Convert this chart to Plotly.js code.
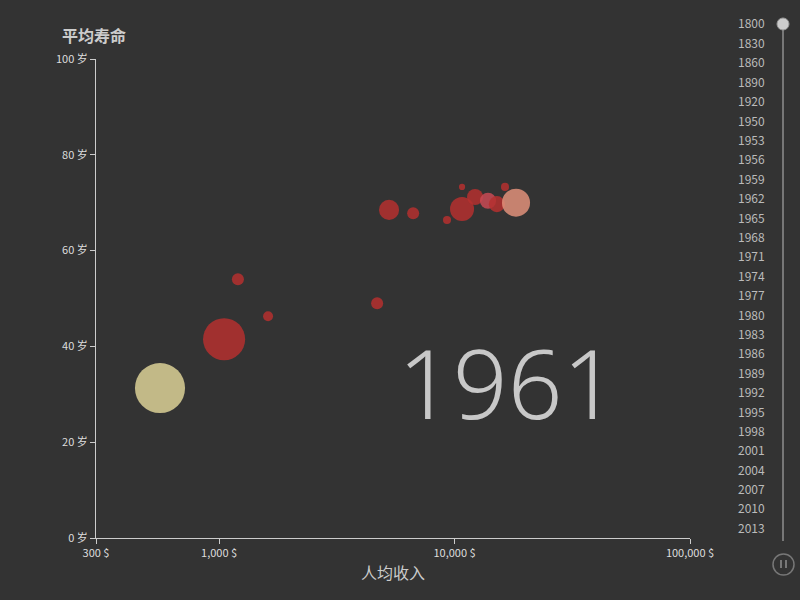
<!DOCTYPE html>
<html><head><meta charset="utf-8">
<script src="https://cdn.plot.ly/plotly-3.0.1.min.js"></script>
<style>body{margin:0;background:#333}#chart{width:800px;height:600px}</style>
</head><body><div id="chart"></div>
<script>
var income = [561, 1050, 1202, 1614, 4690, 5270, 6670, 9290, 10760, 10760, 12220, 13870, 15130, 16380, 18240];
var lifeExp = [31.3, 41.5, 54, 46.3, 49, 68.5, 67.8, 66.4, 68.7, 73.3, 71.2, 70.4, 69.7, 73.3, 70];
var population = [660, 466, 38, 26, 38, 106, 38, 17, 152, 10, 68, 68, 68, 17, 207];
var colors = ['#dcd196', '#b5302f', '#b5302f', '#b5302f', '#b5302f', '#b5302f', '#b5302f', '#b5302f',
  '#b5302f', '#b5302f', '#b5302f', '#c84a55', '#b5302f', '#b5302f', '#e0907a'];
var xTicks = [300, 1000, 10000, 100000];
var xTickText = ['300 $', '1,000 $', '10,000 $', '100,000 $'];
var yTicks = [0, 20, 40, 60, 80, 100];
var years = ['1800','1830','1860','1890','1920','1950','1953','1956','1959','1962','1965','1968','1971',
  '1974','1977','1980','1983','1986','1989','1992','1995','1998','2001','2004','2007','2010','2013'];
var currentYear = '1961';

var sizes = population.map(function (p) { return Math.sqrt(p) * 1.95; });

var data = [{
  type: 'scatter', mode: 'markers',
  x: income, y: lifeExp,
  marker: { size: sizes, color: colors, opacity: 0.85, line: { width: 0 } },
  hoverinfo: 'skip'
}];

// pixel -> paper (plot area spans x 96..690, y 59..538)
function px(x) { return (x - 96) / 594; }
function py(y) { return (538 - y) / 479; }

var annotations = [
  { text: '<b>平均寿命</b>', x: px(60), y: py(35), xref: 'paper', yref: 'paper', xanchor: 'left', yanchor: 'middle',
    showarrow: false, font: { size: 16, color: '#ccc' } },
  { text: currentYear, x: px(508), y: py(382), xref: 'paper', yref: 'paper', xanchor: 'center', yanchor: 'middle',
    showarrow: false, font: { size: 96, color: '#c8c8c8', family: 'Noto Sans', weight: 300 } }
];
years.forEach(function (yr, i) {
  annotations.push({ text: yr, x: px(767), y: py(23 + i * 19.4), xref: 'paper', yref: 'paper',
    xanchor: 'right', yanchor: 'middle', showarrow: false, font: { size: 12, color: '#bbb' } });
});

var shapes = [
  { type: 'line', xref: 'paper', yref: 'paper', x0: px(783), x1: px(783), y0: py(25), y1: py(541),
    line: { color: '#777', width: 2 } },
  { type: 'circle', xref: 'paper', yref: 'paper', x0: px(777), x1: px(789), y0: py(18), y1: py(30),
    fillcolor: '#ccc', line: { color: '#999', width: 1 } },
  { type: 'circle', xref: 'paper', yref: 'paper', x0: px(773), x1: px(794), y0: py(554), y1: py(575),
    line: { color: '#777', width: 1.5 } },
  { type: 'line', xref: 'paper', yref: 'paper', x0: px(781), x1: px(781), y0: py(560), y1: py(568),
    line: { color: '#777', width: 2 } },
  { type: 'line', xref: 'paper', yref: 'paper', x0: px(786), x1: px(786), y0: py(560), y1: py(568),
    line: { color: '#777', width: 2 } }
];

var layout = {
  width: 800, height: 600,
  paper_bgcolor: '#333', plot_bgcolor: '#333',
  margin: { l: 96, r: 110, t: 59, b: 62 },
  showlegend: false,
  font: { family: 'Noto Sans CJK SC, Noto Sans', color: '#ccc', size: 11 },
  xaxis: {
    type: 'log', range: [Math.log10(300), 5], tickvals: xTicks, ticktext: xTickText,
    showgrid: false, zeroline: false, showline: true, linecolor: '#ccc', ticks: 'outside',
    tickcolor: '#ccc', ticklen: 5, tickfont: { size: 11, color: '#ddd' },
    title: { text: '人均收入', font: { size: 16, color: '#ccc' }, standoff: 8 }
  },
  yaxis: {
    range: [0, 100], tickvals: yTicks, ticktext: yTicks.map(function (v) { return v + ' 岁'; }),
    showgrid: false, zeroline: false, showline: true, linecolor: '#ccc', ticks: 'outside',
    tickcolor: '#ccc', ticklen: 5, tickfont: { size: 11, color: '#ddd' }
  },
  annotations: annotations,
  shapes: shapes
};

Plotly.newPlot('chart', data, layout, { displayModeBar: false });
</script></body></html>
